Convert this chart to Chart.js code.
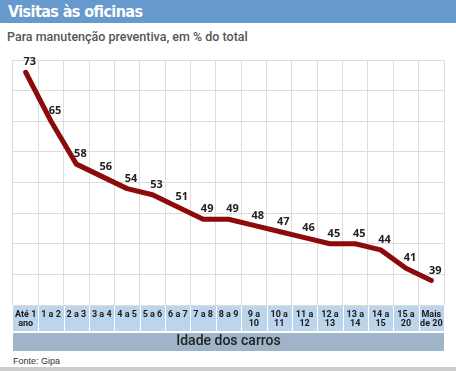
<!DOCTYPE html>
<html>
<head>
<meta charset="utf-8">
<script src="https://cdn.jsdelivr.net/npm/chart.js@4/dist/chart.umd.min.js"></script>
<style>
    body { margin: 0; width: 456px; height: 371px; position: relative; background: #fff; overflow: hidden; }
    #header { position: absolute; left: 0; top: 0; width: 456px; height: 23px; background: #6699cc; }
    #header span { position: absolute; left: 8px; top: 2px; color: #fff; font: bold 16px 'Liberation Sans Narrow', 'DejaVu Sans Condensed', sans-serif; letter-spacing: -0.6px; }
    #subtitle { position: absolute; left: 7px; top: 29px; color: #555; font: 500 12.5px Roboto, sans-serif; }
    #wrap { position: absolute; left: 0; top: 50px; width: 456px; height: 302px; }
    #source { position: absolute; left: 13px; top: 356px; color: #333; font: 9px 'Liberation Sans', Arial, sans-serif; }
    #footer { position: absolute; left: 0; top: 367px; width: 456px; height: 4px; background: #cccccc; }
</style>
</head>
<body>
<div id="header"><span>Visitas às oficinas</span></div>
<div id="subtitle">Para manutenção preventiva, em % do total</div>
<div id="wrap"><canvas id="chart"></canvas></div>
<div id="source">Fonte: Gipa</div>
<div id="footer"></div>
<script>
// Idade dos carros
const ageLabels = [
    ['Até 1', 'ano'], '1 a 2', '2 a 3', '3 a 4', '4 a 5', '5 a 6', '6 a 7', '7 a 8', '8 a 9',
    ['9 a', '10'], ['10 a', '11'], ['11 a', '12'], ['12 a', '13'], ['13 a', '14'],
    ['14 a', '15'], ['15 a', '20'], ['Mais', 'de 20']
];
// % de visitas para manutenção preventiva
const visitShare = [73, 65, 58, 56, 54, 53, 51, 49, 49, 48, 47, 46, 45, 45, 44, 41, 39];

// Background bands under the category labels and axis title
const bandsPlugin = {
    id: 'bands',
    beforeDraw(chart) {
        const ctx = chart.ctx;
        const x = chart.scales.x;
        const area = chart.chartArea;
        const top = x.top;
        ctx.save();
        ctx.fillStyle = '#bdd5ec';
        ctx.fillRect(area.left, top, area.right - area.left, 26);
        ctx.fillStyle = '#9fb4c9';
        ctx.fillRect(area.left, top + 28, area.right - area.left, 18);
        // white separators between categories
        const step = (area.right - area.left) / ageLabels.length;
        ctx.strokeStyle = '#ffffff';
        ctx.lineWidth = 1;
        for (let i = 1; i < ageLabels.length; i++) {
            const px = Math.round(x.getPixelForValue(i) - step / 2) + 0.5;
            ctx.beginPath();
            ctx.moveTo(px, top);
            ctx.lineTo(px, top + 26);
            ctx.stroke();
        }
        ctx.restore();
    }
};

// Value labels above each point
const valueLabels = {
    id: 'valueLabels',
    afterDatasetsDraw(chart) {
        const ctx = chart.ctx;
        const meta = chart.getDatasetMeta(0);
        ctx.save();
        ctx.font = 'bold 11px "Open Sans", sans-serif';
        ctx.fillStyle = '#222';
        ctx.textAlign = 'center';
        ctx.textBaseline = 'middle';
        meta.data.forEach((pt, i) => {
            ctx.fillText(visitShare[i], pt.x + 4, pt.y - 10);
        });
        ctx.restore();
    }
};

new Chart(document.getElementById('chart'), {
    type: 'line',
    data: {
        labels: ageLabels,
        datasets: [{
            data: visitShare,
            borderColor: '#8c0a0a',
            borderWidth: 5,
            borderJoinStyle: 'round',
            borderCapStyle: 'round',
            pointRadius: 0,
            tension: 0,
            fill: false
        }]
    },
    options: {
        responsive: true,
        maintainAspectRatio: false,
        animation: false,
        layout: { padding: { left: 13, right: 12, top: 10, bottom: 1 } },
        plugins: {
            legend: { display: false },
            tooltip: { enabled: false }
        },
        scales: {
            x: {
                offset: true,
                grid: { offset: true, color: '#dddddd', drawTicks: false },
                border: { display: false },
                ticks: {
                    color: '#1a1a1a',
                    font: { family: "Roboto, sans-serif", size: 9, weight: 'bold', lineHeight: 1 },
                    padding: 5,
                    maxRotation: 0,
                    autoSkip: false
                },
                title: {
                    display: true,
                    text: 'Idade dos carros',
                    color: '#222',
                    font: { family: "Roboto, sans-serif", size: 14, weight: '500' },
                    padding: { top: 0, bottom: 1 }
                },
                afterFit(scale) { scale.height = 46; }
            },
            y: {
                min: 35,
                max: 75,
                ticks: { display: false, stepSize: 5 },
                grid: { color: '#dddddd', drawTicks: false },
                border: { display: false },
                afterFit(scale) { scale.width = 0; }
            }
        }
    },
    plugins: [bandsPlugin, valueLabels]
});
</script>
</body>
</html>
